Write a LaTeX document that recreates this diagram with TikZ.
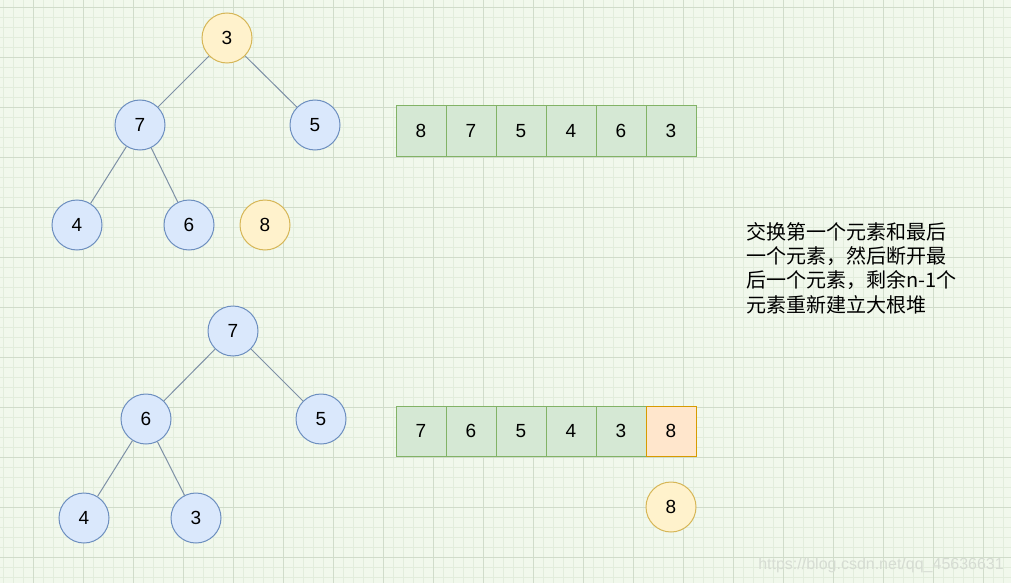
\documentclass[tikz,border=0pt]{standalone}
\usepackage{fontspec}
\setmainfont{Liberation Sans}
\newfontfamily\cjk{Noto Sans CJK SC}
\usepackage{tikz}
\usetikzlibrary{positioning}
\definecolor{PaperGreen}{HTML}{F1F8EC}
\definecolor{GridMinor}{HTML}{E2EDDC}
\definecolor{GridMajor}{HTML}{D0DCCA}
\definecolor{HeapBlue}{HTML}{DAE8FC}
\definecolor{HeapBlueLine}{HTML}{6C8EBF}
\definecolor{SwapYellow}{HTML}{FFF2CC}
\definecolor{SwapYellowLine}{HTML}{D6B656}
\definecolor{CellGreen}{HTML}{D5E8D4}
\definecolor{CellGreenLine}{HTML}{82B366}
\definecolor{CellOrange}{HTML}{FFE6CC}
\definecolor{CellOrangeLine}{HTML}{D79B00}
\definecolor{EdgeGray}{HTML}{7D90A6}
\definecolor{WaterMark}{HTML}{D6DCD3}

\begin{document}
\begin{tikzpicture}[x=1pt, y=-1pt, node distance=0pt,
        heapnode/.style={circle, draw=HeapBlueLine, fill=HeapBlue, line width=1pt, minimum size=50pt, inner sep=0pt, font=\fontsize{19}{19}\selectfont},
        swapnode/.style={heapnode, draw=SwapYellowLine, fill=SwapYellow},
        cell/.style={rectangle, draw=CellGreenLine, fill=CellGreen, line width=1pt, minimum size=50pt, inner sep=0pt, outer sep=0pt, font=\fontsize{19}{19}\selectfont},
        lastcell/.style={cell, draw=CellOrangeLine, fill=CellOrange},
        link/.style={draw=EdgeGray, line width=1pt}]
        \useasboundingbox (0,0) rectangle (1011,583);

        % Paper and grid
        \fill[PaperGreen] (0,0) rectangle (1011,583);
        \foreach \x in {3,13,...,1011} \draw[GridMinor, line width=0.6pt] (\x,0) -- (\x,583);
        \foreach \y in {7,17,...,583} \draw[GridMinor, line width=0.6pt] (0,\y) -- (1011,\y);
        \foreach \x in {33,83,...,1011} \draw[GridMajor, line width=0.7pt] (\x,0) -- (\x,583);
        \foreach \y in {7,57,...,583} \draw[GridMajor, line width=0.7pt] (0,\y) -- (1011,\y);

        % First heap: root swapped out
        \node[swapnode] (t3) at (227,38) {3};
        \node[heapnode] (t7) at (140,125) {7};
        \node[heapnode] (t5) at (315,125) {5};
        \node[heapnode] (t4) at (77,225) {4};
        \node[heapnode] (t6) at (189,225) {6};
        \node[swapnode] (t8) at (265,225) {8};
        \draw[link] (t3) -- (t7);
        \draw[link] (t3) -- (t5);
        \draw[link] (t7) -- (t4);
        \draw[link] (t7) -- (t6);

        % First array
        \node[cell] (a1) at (421,131) {8};
        \node[cell, right=of a1] (a2) {7};
        \node[cell, right=of a2] (a3) {5};
        \node[cell, right=of a3] (a4) {4};
        \node[cell, right=of a4] (a5) {6};
        \node[cell, right=of a5] (a6) {3};

        % Note
        \node[anchor=north west, align=left, inner sep=0pt, font=\cjk\fontsize{20}{24.3}\selectfont] (note) at (746,222)
            {交换第一个元素和最后\\一个元素，然后断开最\\后一个元素，剩余n-1个\\元素重新建立大根堆};

        % Second heap: rebuilt
        \node[heapnode] (b7) at (233,331) {7};
        \node[heapnode] (b6) at (146,419) {6};
        \node[heapnode] (b5) at (321,419) {5};
        \node[heapnode] (b4) at (84,518) {4};
        \node[heapnode] (b3) at (196,518) {3};
        \draw[link] (b7) -- (b6);
        \draw[link] (b7) -- (b5);
        \draw[link] (b6) -- (b4);
        \draw[link] (b6) -- (b3);

        % Second array
        \node[cell] (c1) at (421,431) {7};
        \node[cell, right=of c1] (c2) {6};
        \node[cell, right=of c2] (c3) {5};
        \node[cell, right=of c3] (c4) {4};
        \node[cell, right=of c4] (c5) {3};
        \node[lastcell, right=of c5] (c6) {8};
        \node[swapnode] (out8) at (671,507) {8};

        % Watermark
        \node[anchor=east, inner sep=0pt, text=WaterMark, font=\fontsize{16}{16}\selectfont] (wmark) at (1004,565) {https://blog.csdn.net/qq\_45636631};
    \end{tikzpicture}
\end{document}
